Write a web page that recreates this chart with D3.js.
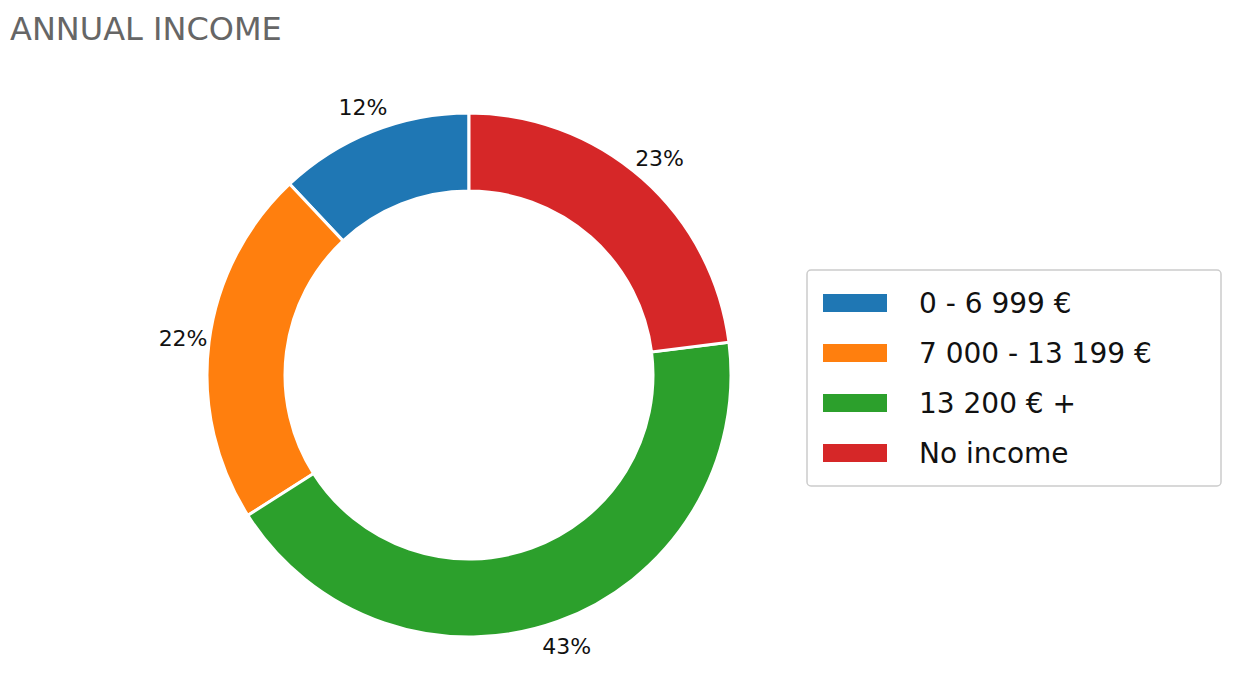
<!DOCTYPE html>
<html><head><meta charset="utf-8">
<script src="https://cdn.jsdelivr.net/npm/d3@7"></script>
<style>body{margin:0;background:#fff}</style>
</head><body>
<script>
// Data
const categories = ['0 - 6 999 €', '7 000 - 13 199 €', '13 200 € +', 'No income'];
const shares = [12, 22, 43, 23];
const colors = ['#1f77b4', '#ff7f0e', '#2ca02c', '#d62728'];

const W = 1233, H = 679;
const cx = 469, cy = 375, outerR = 262, innerR = 184;
const font = 'DejaVu Sans, sans-serif';

const svg = d3.select('body').append('svg').attr('width', W).attr('height', H);

svg.append('text').attr('x', 10).attr('y', 40)
  .attr('font-family', font).attr('font-size', 32).attr('fill', '#666')
  .text('ANNUAL INCOME');

// matplotlib-style: start at top, go counterclockwise
const total = d3.sum(shares);
const angle = d3.scaleLinear().domain([0, total]).range([0, -2 * Math.PI]);
let cum = 0;
const slices = shares.map((v, i) => {
  const s = { i, v, a0: angle(cum + v), a1: angle(cum) };
  cum += v;
  return s;
});

const arc = d3.arc().innerRadius(innerR).outerRadius(outerR);
const g = svg.append('g').attr('transform', `translate(${cx},${cy})`);
g.selectAll('path').data(slices).join('path')
  .attr('d', d => arc({ startAngle: d.a0, endAngle: d.a1 }))
  .attr('fill', d => colors[d.i])
  .attr('stroke', '#fff').attr('stroke-width', 3);

const labelR = outerR * 1.1;
g.selectAll('text').data(slices).join('text')
  .attr('x', d => labelR * Math.sin((d.a0 + d.a1) / 2))
  .attr('y', d => -labelR * Math.cos((d.a0 + d.a1) / 2))
  .attr('text-anchor', 'middle').attr('dominant-baseline', 'central')
  .attr('font-family', font).attr('font-size', 22).attr('fill', '#111')
  .text(d => d.v + '%');

// Legend
const lg = svg.append('g').attr('transform', 'translate(807,270)');
lg.append('rect').attr('width', 414).attr('height', 216).attr('rx', 4)
  .attr('fill', '#fff').attr('stroke', '#ccc').attr('stroke-width', 1.5);
const ly = d3.scaleBand().domain(d3.range(categories.length)).range([8, 208]);
categories.forEach((c, i) => {
  const y = ly(i) + ly.bandwidth() / 2;
  lg.append('rect').attr('x', 16).attr('y', y - 9).attr('width', 64).attr('height', 18).attr('fill', colors[i]);
  lg.append('text').attr('x', 112).attr('y', y).attr('dominant-baseline', 'central')
    .attr('font-family', font).attr('font-size', 28).attr('fill', '#111').text(c);
});
</script>
</body></html>
